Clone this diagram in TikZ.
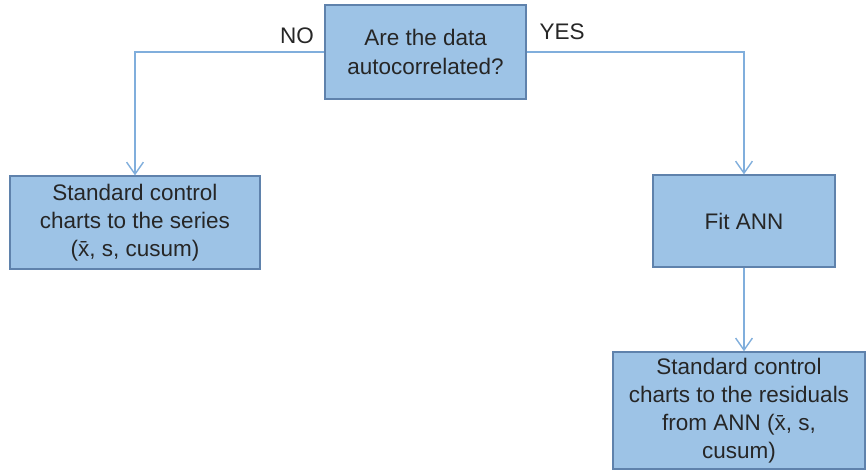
\documentclass[tikz,border=0pt]{standalone}
\usepackage{fontspec}
\setmainfont{Liberation Sans}
\usetikzlibrary{arrows.meta}
\definecolor{boxfill}{HTML}{9DC3E6}
\definecolor{boxline}{HTML}{5F82AC}
\definecolor{flowline}{HTML}{80AEDC}
\definecolor{txt}{HTML}{262626}
\begin{document}
\begin{tikzpicture}[
        every node/.append style = {font = \fontsize{16}{20}\selectfont, text = txt},
        stepbox/.style = {draw = boxline, fill = boxfill, line width = 0.9pt, align = center, inner sep = 0pt},
        flow/.style = {draw = flowline, line width = 1pt, -{Straight Barb[length = 3mm, width = 4.2mm]}}
    ]
        \useasboundingbox (0,0) rectangle (21.65,-11.8);
        \node[stepbox, minimum width = 5.025cm, minimum height = 2.35cm] (quest) at (10.64,-1.3) {Are the data\\autocorrelated?};
        \node[stepbox, minimum width = 6.25cm, minimum height = 2.325cm] (series) at (3.375,-5.5625) {Standard control\\charts to the series\\(\={x}, s, cusum)};
        \node[stepbox, minimum width = 4.55cm, minimum height = 2.3cm] (fit) at (18.6,-5.525) {Fit ANN};
        \node[stepbox, minimum width = 6.3cm, minimum height = 2.925cm] (resid) at (18.475,-10.26) {Standard control\\charts to the residuals\\from ANN (\={x}, s,\\cusum)};
        \node (no) at (7.425,-0.9) {NO};
        \node (yes) at (14.05,-0.8) {YES};
        \draw[flow] (quest.west) -| (series.north);
        \draw[flow] (quest.east) -| (fit.north);
        \draw[flow] (fit.south) -- (fit.south |- resid.north);
    \end{tikzpicture}
\end{document}
